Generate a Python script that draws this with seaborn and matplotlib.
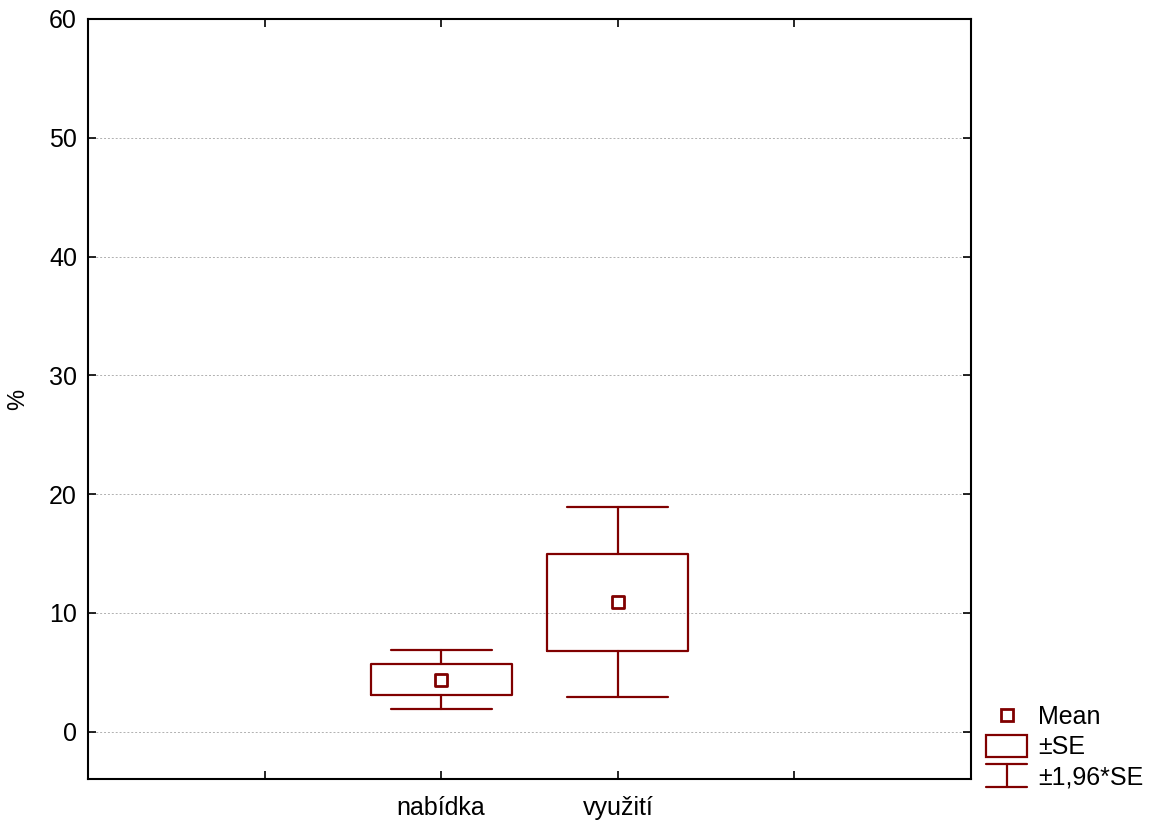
import matplotlib
matplotlib.use("Agg")
import matplotlib.pyplot as plt
from matplotlib.legend_handler import HandlerBase
from matplotlib.lines import Line2D
from matplotlib.patches import Rectangle
import seaborn as sns
import pandas as pd

# Summary statistics per category
categories = ["nabídka", "využití"]
means = [4.37, 10.9]
std_errors = [1.28, 4.08]
positions = [2, 3]
tick_positions = [1, 2, 3, 4]
tick_labels = ["", "nabídka", "využití", ""]
y_ticks = [0, 10, 20, 30, 40, 50, 60]
y_label = "%"

DARK_RED = "#800000"
FS = 18

sns.set_theme(style="white")
plt.rcParams["font.family"] = ["Liberation Sans", "DejaVu Sans"]
plt.rcParams["text.color"] = "black"

fig = plt.figure(figsize=(11.51, 8.23), dpi=100)
ax = fig.add_axes([88 / 1151, 44 / 823, 883 / 1151, 760 / 823])

df = pd.DataFrame({"category": categories, "mean": means, "se": std_errors, "pos": positions})

stats = []
for _, r in df.iterrows():
    stats.append({
        "med": r["mean"],
        "q1": r["mean"] - r["se"],
        "q3": r["mean"] + r["se"],
        "whislo": r["mean"] - 1.96 * r["se"],
        "whishi": r["mean"] + 1.96 * r["se"],
        "label": r["category"],
    })

ax.bxp(stats, positions=df["pos"], widths=0.8, capwidths=0.57,
       showfliers=False, patch_artist=False,
       boxprops=dict(color=DARK_RED, linewidth=1.6),
       whiskerprops=dict(color=DARK_RED, linewidth=1.6),
       capprops=dict(color=DARK_RED, linewidth=1.6),
       medianprops=dict(linewidth=0), manage_ticks=False, zorder=3)

sns.scatterplot(data=df, x="pos", y="mean", marker="s", s=80,
                facecolor="white", edgecolor=DARK_RED, linewidth=2,
                ax=ax, zorder=4, legend=False)

ax.set_xlim(0, 5)
ax.set_ylim(-4, 60)
ax.set_xticks(tick_positions)
ax.set_xticklabels(tick_labels)
ax.set_yticks(y_ticks)
ax.set_xlabel("")
ax.set_ylabel(y_label, fontsize=FS - 1, color="black")
ax.yaxis.set_label_coords(-59 / 883, 0.5)

ax.yaxis.grid(True, linestyle=(0, (2, 2)), color="#b0b0b0", linewidth=0.7)
ax.xaxis.grid(False)
ax.set_axisbelow(True)

for sp in ax.spines.values():
    sp.set_visible(True)
    sp.set_color("black")
    sp.set_linewidth(1.5)

ax.tick_params(axis="both", which="both", direction="in", length=6, width=1.2,
               top=True, right=True, bottom=True, left=True,
               labelsize=FS, colors="black", labelcolor="black")
ax.tick_params(axis="y", pad=8)
ax.tick_params(axis="x", pad=12)


class HandlerWhisker(HandlerBase):
    def create_artists(self, legend, orig_handle, xdescent, ydescent,
                       width, height, fontsize, trans):
        x0, x1 = -xdescent, -xdescent + width
        xm = (x0 + x1) / 2
        y0, y1 = -ydescent, -ydescent + height
        kw = dict(color=DARK_RED, linewidth=1.6, transform=trans)
        return [Line2D([x0, x1], [y1, y1], **kw),
                Line2D([xm, xm], [y0, y1], **kw),
                Line2D([x0, x1], [y0, y0], **kw)]


class WhiskerKey:
    pass


mean_handle = Line2D([], [], linestyle="none", marker="s", markersize=8,
                     markerfacecolor="white", markeredgecolor=DARK_RED, markeredgewidth=2)
se_handle = Rectangle((0, 0), 1, 1, facecolor="white", edgecolor=DARK_RED, linewidth=1.6)
ci_handle = WhiskerKey()

leg = fig.legend([mean_handle, se_handle, ci_handle], ["Mean", "±SE", "±1,96*SE"],
                 handler_map={WhiskerKey: HandlerWhisker()},
                 loc="lower left", bbox_to_anchor=(986 / 1151, 34 / 823),
                 frameon=False, fontsize=FS, handlelength=1.65, handleheight=1.0,
                 handletextpad=0.45, labelspacing=0.2, borderpad=0, borderaxespad=0)
for t in leg.get_texts():
    t.set_color("black")

fig.savefig("out.png", dpi=100, facecolor="white")
